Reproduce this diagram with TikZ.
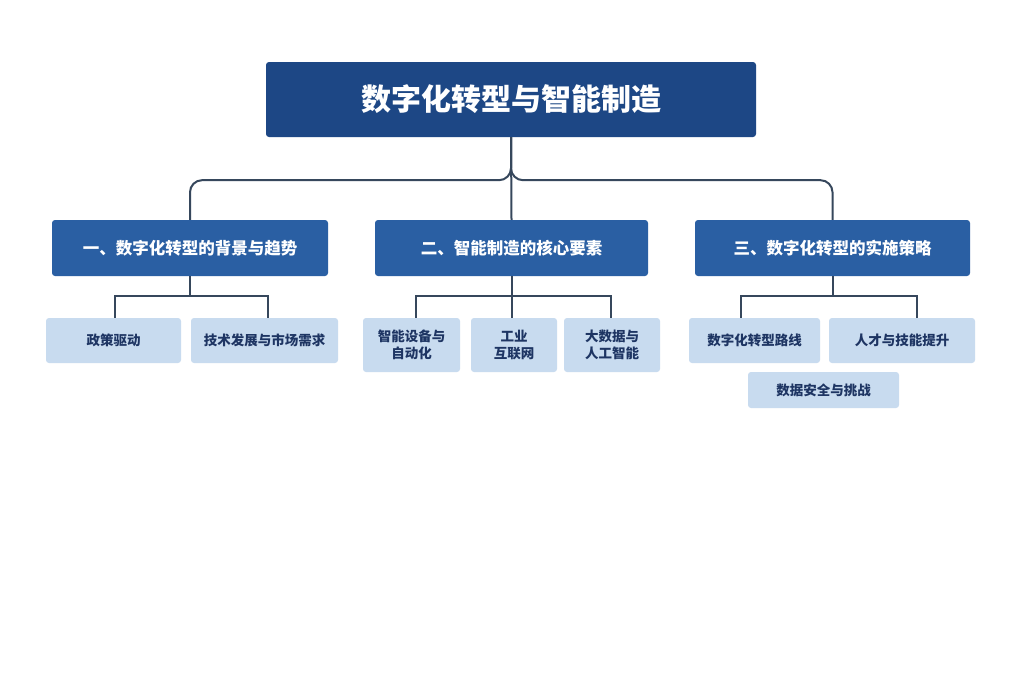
\documentclass[tikz,border=0pt]{standalone}
\usepackage{fontspec}
\setmainfont{Noto Sans CJK SC}
\usetikzlibrary{positioning}
\definecolor{darkblue}{HTML}{1D4785}
\definecolor{midblue}{HTML}{2A5FA3}
\definecolor{paleblue}{HTML}{C8DBEF}
\definecolor{leaftext}{HTML}{1E3563}
\definecolor{wire}{HTML}{36475C}
\begin{document}
\begin{tikzpicture}[x=1pt,y=-1pt]
\tikzset{titlebox/.style={fill=darkblue,rounded corners=3pt,text=white,font=\fontsize{30}{34}\selectfont\bfseries,minimum width=490pt,minimum height=75pt,anchor=center}}
\tikzset{secbox/.style={fill=midblue,rounded corners=3pt,text=white,font=\fontsize{16.5}{20}\selectfont\bfseries,minimum height=56pt,anchor=center}}
\tikzset{leafbox/.style={fill=paleblue,rounded corners=3pt,text=leaftext,font=\fontsize{13.5}{17}\selectfont\bfseries,align=center,anchor=center}}
\tikzset{wire/.style={draw=wire,line width=2pt}}

\path[fill=white] (0,0) rectangle (1024,683);
\useasboundingbox (0,0) rectangle (1024,683);

\node[titlebox] (title) at (511,99.5) {数字化转型与智能制造};

\node[secbox,minimum width=276pt] (s1) at (190,248) {一、数字化转型的背景与趋势};
\node[secbox,minimum width=273pt] (s2) at (511.5,248) {二、智能制造的核心要素};
\node[secbox,minimum width=275pt] (s3) at (832.5,248) {三、数字化转型的实施策略};

\node[leafbox,minimum width=135pt,minimum height=45pt] (l11) at (113.5,340.5) {政策驱动};
\node[leafbox,minimum width=147pt,minimum height=45pt] (l12) at (264.5,340.5) {技术发展与市场需求};

\node[leafbox,minimum width=97pt,minimum height=54pt] (l21) at (411.5,345) {智能设备与\\自动化};
\node[leafbox,minimum width=86pt,minimum height=54pt] (l22) at (514,345) {工业\\互联网};
\node[leafbox,minimum width=96pt,minimum height=54pt] (l23) at (612,345) {大数据与\\人工智能};

\node[leafbox,minimum width=131pt,minimum height=45pt] (l31) at (754.5,340.5) {数字化转型路线};
\node[leafbox,minimum width=146pt,minimum height=45pt] (l32) at (902,340.5) {人才与技能提升};
\node[leafbox,minimum width=151pt,minimum height=36pt] (l33) at (823.5,390) {数据安全与挑战};

% title to sections
\draw[wire,rounded corners=12pt] (title.south) -- ++(0,43) -| (s1.north);
\draw[wire,rounded corners=12pt] (title.south) -- ++(0,43) -| (s3.north);
\draw[wire] (title.south) -- (s2.north);

% sections to leaves
\draw[wire] (s1.south) -- ++(0,20) -| (l11.north-|115,0);
\draw[wire] (s1.south) -- ++(0,20) -| (l12.north-|268,0);
\draw[wire] (s2.south) -- ++(0,20) -| (l21.north-|416,0);
\draw[wire] (s2.south) -- (l22.north-|511.5,0);
\draw[wire] (s2.south) -- ++(0,20) -| (l23.north-|611,0);
\draw[wire] (s3.south) -- ++(0,20) -| (l31.north-|741,0);
\draw[wire] (s3.south) -- ++(0,20) -| (l32.north-|917,0);
\end{tikzpicture}
\end{document}
